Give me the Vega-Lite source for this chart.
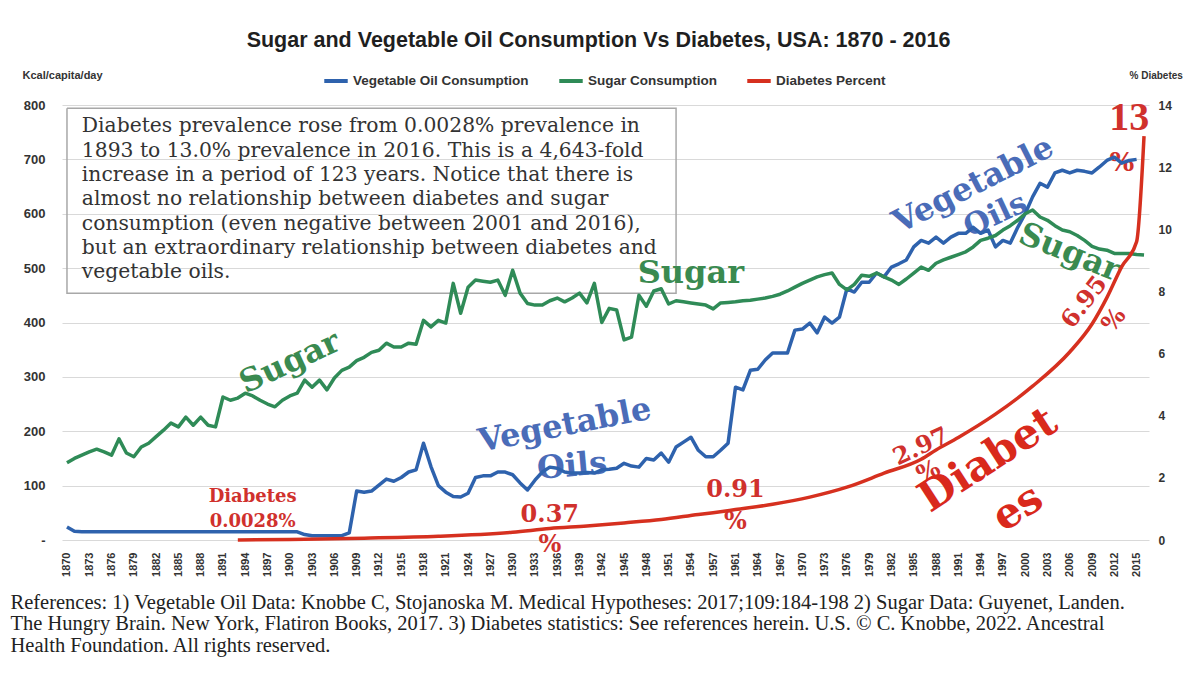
{
  "$schema": "https://vega.github.io/schema/vega-lite/v6.json",
  "width": 1087,
  "height": 435,
  "autosize": {"type": "none"},
  "padding": {"left": 62, "top": 105, "right": 51, "bottom": 135},
  "background": "white",
  "title": {
    "text": "Sugar and Vegetable Oil Consumption Vs Diabetes, USA: 1870 - 2016",
    "font": "Liberation Sans",
    "fontSize": 21.5,
    "fontWeight": "bold",
    "color": "#1f1f1f",
    "anchor": "middle",
    "frame": "group",
    "offset": 16,
    "dx": -7
  },
  "config": {
    "view": {"stroke": null},
    "text": {"font": "DejaVu Serif", "fontWeight": "bold"}
  },
  "encoding": {
    "x": {
      "field": "year",
      "type": "ordinal",
      "scale": {
        "type": "point",
        "padding": 0.67,
        "domain": [1870,1871,1872,1873,1874,1875,1876,1877,1878,1879,1880,1881,1882,1883,1884,1885,1886,1887,1888,1889,1890,1891,1892,1893,1894,1895,1896,1897,1898,1899,1900,1901,1902,1903,1904,1905,1906,1907,1908,1909,1910,1911,1912,1913,1914,1915,1916,1917,1918,1919,1920,1921,1922,1923,1924,1925,1926,1927,1928,1929,1930,1931,1932,1933,1934,1935,1936,1937,1938,1939,1940,1941,1942,1943,1944,1945,1946,1947,1948,1949,1950,1951,1952,1953,1954,1955,1956,1957,1959,1960,1961,1962,1963,1964,1965,1966,1967,1968,1969,1970,1971,1972,1973,1974,1975,1976,1977,1978,1979,1980,1981,1982,1983,1984,1985,1986,1987,1988,1989,1990,1991,1992,1993,1994,1995,1996,1997,1998,1999,2000,2001,2002,2003,2004,2005,2006,2007,2008,2009,2010,2011,2012,2013,2014,2015,2016]
      },
      "axis": {
        "values": [1870,1873,1876,1879,1882,1885,1888,1891,1894,1897,1900,1903,1906,1909,1912,1915,1918,1921,1924,1927,1930,1933,1936,1939,1942,1945,1948,1951,1954,1957,1961,1964,1967,1970,1973,1976,1979,1982,1985,1988,1991,1994,1997,2000,2003,2006,2009,2012,2015],
        "labelAngle": -90,
        "labelFont": "Liberation Sans",
        "labelFontSize": 11,
        "labelFontWeight": "bold",
        "labelColor": "#333333",
        "labelPadding": 12,
        "labelOverlap": false,
        "ticks": false,
        "domain": false,
        "grid": false,
        "title": [
          "References: 1) Vegetable Oil Data: Knobbe C, Stojanoska M. Medical Hypotheses: 2017;109:184-198  2) Sugar Data: Guyenet, Landen.",
          "The Hungry Brain. New York, Flatiron Books, 2017. 3) Diabetes statistics: See references herein. U.S. © C. Knobbe, 2022. Ancestral",
          "Health Foundation. All rights reserved."
        ],
        "titleFont": "Liberation Serif",
        "titleFontSize": 20.5,
        "titleFontWeight": "normal",
        "titleColor": "#222222",
        "titleAnchor": "start",
        "titleAlign": "left",
        "titleBaseline": "top",
        "titleX": -52,
        "titleY": 52,
        "titleLineHeight": 21.5,
        "titleLimit": 1300
      }
    }
  },
  "layer": [
    {
      "encoding": {
        "y": {
          "field": "val",
          "type": "quantitative",
          "scale": {"domain": [0, 800], "nice": false, "zero": false},
          "axis": {
            "orient": "left",
            "values": [0,100,200,300,400,500,600,700,800],
            "labelExpr": "datum.value == 0 ? '-' : datum.label",
            "labelFont": "Liberation Sans",
            "labelFontSize": 13,
            "labelFontWeight": "bold",
            "labelColor": "#333333",
            "labelPadding": 17,
            "ticks": false,
            "domain": false,
            "grid": true,
            "gridColor": "#d9d9d9",
            "gridWidth": 1,
            "title": "Kcal/capita/day",
            "titleAngle": 0,
            "titleAlign": "left",
            "titleBaseline": "middle",
            "titleX": -40,
            "titleY": -30,
            "titleFont": "Liberation Sans",
            "titleFontSize": 11,
            "titleFontWeight": "bold",
            "titleColor": "#333333"
          }
        }
      },
      "layer": [
        {
          "data": {"values": [
            {"year": 1870, "val": 794, "o": 1},
            {"year": 1952, "val": 794, "o": 2},
            {"year": 1952, "val": 454, "o": 3},
            {"year": 1870, "val": 454, "o": 4},
            {"year": 1870, "val": 794, "o": 5}
          ]},
          "mark": {"type": "line", "color": "#a8a8a8", "strokeWidth": 1.5},
          "encoding": {"order": {"field": "o", "type": "quantitative"}}
        },
        {
          "data": {"values": [{"year": 1872, "val": 779}]},
          "mark": {
            "type": "text",
            "text": [
              "Diabetes prevalence rose from 0.0028% prevalence in",
              "1893 to 13.0% prevalence in 2016.  This is a 4,643-fold",
              "increase in a period of 123 years. Notice that there is",
              "almost no relationship between diabetes and sugar",
              "consumption (even negative between 2001 and 2016),",
              "but an extraordinary relationship between diabetes and",
              "vegetable oils."
            ],
            "align": "left",
            "baseline": "top",
            "font": "DejaVu Serif",
            "fontWeight": "normal",
            "fontSize": 20.3,
            "lineHeight": 24.3,
            "color": "#333333"
          }
        },
        {
          "data": {"values": [{"year": 1900, "val": 327, "t": "Sugar"}]},
          "mark": {"type": "text", "fontSize": 32, "angle": -25, "color": "#3a8a50"},
          "encoding": {"text": {"field": "t"}}
        },
        {
          "data": {"values": [{"year": 1954, "val": 491, "t": "Sugar"}]},
          "mark": {"type": "text", "fontSize": 32, "angle": 0, "color": "#3a8a50"},
          "encoding": {"text": {"field": "t"}}
        },
        {
          "data": {"values": [{"year": 2006, "val": 529, "t": "Sugar"}]},
          "mark": {"type": "text", "fontSize": 32, "angle": 22, "color": "#3a8a50"},
          "encoding": {"text": {"field": "t"}}
        },
        {
          "data": {"values": [{"year": 1937, "val": 211, "t": "Vegetable"}]},
          "mark": {"type": "text", "fontSize": 32, "angle": -11, "color": "#4a6cb8"},
          "encoding": {"text": {"field": "t"}}
        },
        {
          "data": {"values": [{"year": 1938, "val": 136, "t": "Oils"}]},
          "mark": {"type": "text", "fontSize": 32, "angle": -5, "color": "#4a6cb8"},
          "encoding": {"text": {"field": "t"}}
        },
        {
          "data": {"values": [{"year": 1993, "val": 653, "t": "Vegetable"}]},
          "mark": {"type": "text", "fontSize": 32, "angle": -27, "color": "#4a6cb8"},
          "encoding": {"text": {"field": "t"}}
        },
        {
          "data": {"values": [{"year": 1996, "val": 597, "t": "Oils"}]},
          "mark": {"type": "text", "fontSize": 30, "angle": -25, "color": "#4a6cb8"},
          "encoding": {"text": {"field": "t"}}
        },
        {
          "data": {"values": [
            {"year": 1895, "val": 79, "t": "Diabetes"},
            {"year": 1895, "val": 33, "t": "0.0028%"}
          ]},
          "mark": {"type": "text", "fontSize": 18, "color": "#d0312d"},
          "encoding": {"text": {"field": "t"}}
        },
        {
          "data": {"values": [
            {"year": 1935, "val": 46, "t": "0.37"},
            {"year": 1935, "val": -9, "t": "%"},
            {"year": 1961, "val": 92, "t": "0.91"},
            {"year": 1961, "val": 33, "t": "%"}
          ]},
          "mark": {"type": "text", "fontSize": 24, "color": "#d0312d"},
          "encoding": {"text": {"field": "t"}}
        },
        {
          "data": {"values": [
            {"year": 1986, "val": 171, "t": "2.97"},
            {"year": 1987, "val": 125, "t": "%"}
          ]},
          "mark": {"type": "text", "fontSize": 24, "angle": -25, "color": "#d0312d"},
          "encoding": {"text": {"field": "t"}}
        },
        {
          "data": {"values": [
            {"year": 2008, "val": 437, "t": "6.95"},
            {"year": 2012, "val": 404, "t": "%"}
          ]},
          "mark": {"type": "text", "fontSize": 24, "angle": -52, "color": "#d0312d"},
          "encoding": {"text": {"field": "t"}}
        },
        {
          "data": {"values": [
            {"year": 1995, "val": 147, "t": "Diabet"},
            {"year": 1999, "val": 59, "t": "es"}
          ]},
          "mark": {"type": "text", "fontSize": 42, "angle": -33, "color": "#d9291c"},
          "encoding": {"text": {"field": "t"}}
        },
        {
          "data": {"values": [{"year": 2014, "val": 776, "t": "13"}]},
          "mark": {"type": "text", "fontSize": 40, "color": "#d0312d", "font": "Liberation Serif"},
          "encoding": {"text": {"field": "t"}}
        },
        {
          "data": {"values": [{"year": 2013, "val": 693, "t": "%"}]},
          "mark": {"type": "text", "fontSize": 26, "color": "#d0312d"},
          "encoding": {"text": {"field": "t"}}
        },
        {
          "data": {"values": [
            {"year":1870,"oil":24,"sugar":142},{"year":1871,"oil":16,"sugar":150},{"year":1872,"oil":15,"sugar":156},{"year":1873,"oil":15,"sugar":162},{"year":1874,"oil":15,"sugar":167},
            {"year":1875,"oil":15,"sugar":162},{"year":1876,"oil":15,"sugar":156},{"year":1877,"oil":15,"sugar":186},{"year":1878,"oil":15,"sugar":160},{"year":1879,"oil":15,"sugar":153},
            {"year":1880,"oil":15,"sugar":171},{"year":1881,"oil":15,"sugar":178},{"year":1882,"oil":15,"sugar":190},{"year":1883,"oil":15,"sugar":202},{"year":1884,"oil":15,"sugar":215},
            {"year":1885,"oil":15,"sugar":208},{"year":1886,"oil":15,"sugar":226},{"year":1887,"oil":15,"sugar":211},{"year":1888,"oil":15,"sugar":226},{"year":1889,"oil":15,"sugar":211},
            {"year":1890,"oil":15,"sugar":208},{"year":1891,"oil":15,"sugar":263},{"year":1892,"oil":15,"sugar":257},{"year":1893,"oil":15,"sugar":261},{"year":1894,"oil":15,"sugar":270},
            {"year":1895,"oil":15,"sugar":265},{"year":1896,"oil":15,"sugar":257},{"year":1897,"oil":15,"sugar":250},{"year":1898,"oil":15,"sugar":245},{"year":1899,"oil":15,"sugar":257},
            {"year":1900,"oil":15,"sugar":265},{"year":1901,"oil":15,"sugar":270},{"year":1902,"oil":10,"sugar":294},{"year":1903,"oil":8,"sugar":281},{"year":1904,"oil":8,"sugar":294},
            {"year":1905,"oil":8,"sugar":276},{"year":1906,"oil":8,"sugar":298},{"year":1907,"oil":8,"sugar":312},{"year":1908,"oil":13,"sugar":318},{"year":1909,"oil":90,"sugar":330},
            {"year":1910,"oil":88,"sugar":336},{"year":1911,"oil":90,"sugar":345},{"year":1912,"oil":101,"sugar":349},{"year":1913,"oil":112,"sugar":362},{"year":1914,"oil":108,"sugar":355},
            {"year":1915,"oil":115,"sugar":355},{"year":1916,"oil":125,"sugar":362},{"year":1917,"oil":129,"sugar":360},{"year":1918,"oil":178,"sugar":404},{"year":1919,"oil":135,"sugar":392},
            {"year":1920,"oil":100,"sugar":404},{"year":1921,"oil":88,"sugar":399},{"year":1922,"oil":80,"sugar":472},{"year":1923,"oil":79,"sugar":417},{"year":1924,"oil":86,"sugar":465},
            {"year":1925,"oil":115,"sugar":478},{"year":1926,"oil":118,"sugar":476},{"year":1927,"oil":118,"sugar":474},{"year":1928,"oil":125,"sugar":478},{"year":1929,"oil":125,"sugar":450},
            {"year":1930,"oil":120,"sugar":496},{"year":1931,"oil":105,"sugar":454},{"year":1932,"oil":92,"sugar":435},{"year":1933,"oil":110,"sugar":432},{"year":1934,"oil":125,"sugar":432},
            {"year":1935,"oil":134,"sugar":440},{"year":1936,"oil":132,"sugar":445},{"year":1937,"oil":125,"sugar":438},{"year":1938,"oil":123,"sugar":445},{"year":1939,"oil":123,"sugar":454},
            {"year":1940,"oil":124,"sugar":436},{"year":1941,"oil":123,"sugar":472},{"year":1942,"oil":129,"sugar":400},{"year":1943,"oil":130,"sugar":426},{"year":1944,"oil":132,"sugar":423},
            {"year":1945,"oil":141,"sugar":368},{"year":1946,"oil":136,"sugar":373},{"year":1947,"oil":134,"sugar":450},{"year":1948,"oil":150,"sugar":430},{"year":1949,"oil":147,"sugar":458},
            {"year":1950,"oil":160,"sugar":462},{"year":1951,"oil":143,"sugar":434},{"year":1952,"oil":171,"sugar":440},{"year":1953,"oil":180,"sugar":438},{"year":1954,"oil":189,"sugar":436},
            {"year":1955,"oil":165,"sugar":434},{"year":1956,"oil":153,"sugar":432},{"year":1957,"oil":153,"sugar":425},
            {"year":1959,"oil":165,"sugar":436},{"year":1960,"oil":178,"sugar":437},{"year":1961,"oil":281,"sugar":438},{"year":1962,"oil":276,"sugar":440},{"year":1963,"oil":312,"sugar":441},
            {"year":1964,"oil":314,"sugar":443},{"year":1965,"oil":331,"sugar":445},{"year":1966,"oil":344,"sugar":448},{"year":1967,"oil":344,"sugar":452},{"year":1968,"oil":344,"sugar":458},
            {"year":1969,"oil":386,"sugar":465},{"year":1970,"oil":388,"sugar":472},{"year":1971,"oil":399,"sugar":478},{"year":1972,"oil":381,"sugar":484},{"year":1973,"oil":410,"sugar":488},
            {"year":1974,"oil":399,"sugar":491},{"year":1975,"oil":410,"sugar":470},{"year":1976,"oil":462,"sugar":460},{"year":1977,"oil":456,"sugar":470},{"year":1978,"oil":474,"sugar":487},
            {"year":1979,"oil":474,"sugar":485},{"year":1980,"oil":491,"sugar":491},{"year":1981,"oil":484,"sugar":484},{"year":1982,"oil":502,"sugar":478},{"year":1983,"oil":508,"sugar":470},
            {"year":1984,"oil":515,"sugar":480},{"year":1985,"oil":539,"sugar":491},{"year":1986,"oil":551,"sugar":502},{"year":1987,"oil":546,"sugar":496},{"year":1988,"oil":557,"sugar":509},
            {"year":1989,"oil":546,"sugar":515},{"year":1990,"oil":557,"sugar":520},{"year":1991,"oil":564,"sugar":525},{"year":1992,"oil":564,"sugar":530},{"year":1993,"oil":575,"sugar":539},
            {"year":1994,"oil":564,"sugar":551},{"year":1995,"oil":570,"sugar":555},{"year":1996,"oil":539,"sugar":560},{"year":1997,"oil":551,"sugar":570},{"year":1998,"oil":546,"sugar":578},
            {"year":1999,"oil":575,"sugar":588},{"year":2000,"oil":600,"sugar":600},{"year":2001,"oil":631,"sugar":607},{"year":2002,"oil":656,"sugar":594},{"year":2003,"oil":649,"sugar":588},
            {"year":2004,"oil":675,"sugar":578},{"year":2005,"oil":680,"sugar":570},{"year":2006,"oil":675,"sugar":567},{"year":2007,"oil":680,"sugar":560},{"year":2008,"oil":678,"sugar":551},
            {"year":2009,"oil":675,"sugar":540},{"year":2010,"oil":686,"sugar":535},{"year":2011,"oil":698,"sugar":533},{"year":2012,"oil":704,"sugar":527},{"year":2013,"oil":693,"sugar":527},
            {"year":2014,"oil":698,"sugar":527},{"year":2015,"oil":700,"sugar":525},{"year":2016,"sugar":524}
          ]},
          "transform": [{"fold": ["oil", "sugar"], "as": ["series", "val"]}],
          "mark": {"type": "line", "strokeWidth": 3.5, "strokeJoin": "round"},
          "encoding": {
            "color": {
              "field": "series",
              "type": "nominal",
              "scale": {"domain": ["oil", "sugar", "diabetes"], "range": ["#2e62ad", "#2f8b57", "#d6301f"]},
              "legend": {
                "orient": "none",
                "legendX": 260,
                "legendY": -38,
                "direction": "horizontal",
                "title": null,
                "labelExpr": "datum.label == 'oil' ? 'Vegetable Oil Consumption' : datum.label == 'sugar' ? 'Sugar Consumption' : 'Diabetes Percent'",
                "labelFont": "Liberation Sans",
                "labelFontSize": 13.5,
                "labelFontWeight": "bold",
                "labelColor": "#333333",
                "labelLimit": 400,
                "labelOffset": 3,
                "symbolType": "stroke",
                "symbolStrokeWidth": 4,
                "symbolSize": 550,
                "columnPadding": 22
              }
            }
          }
        }
      ]
    },
    {
      "data": {"values": [
        {"year":1893,"pct":0.0028},{"year":1900,"pct":0.02},{"year":1910,"pct":0.06},{"year":1920,"pct":0.12},
        {"year":1930,"pct":0.25},{"year":1935,"pct":0.37},{"year":1940,"pct":0.45},{"year":1945,"pct":0.55},
        {"year":1950,"pct":0.66},{"year":1955,"pct":0.82},{"year":1957,"pct":0.88},{"year":1961,"pct":0.98},
        {"year":1966,"pct":1.15},{"year":1971,"pct":1.38},{"year":1976,"pct":1.7},{"year":1981,"pct":2.15},
        {"year":1986,"pct":2.6},{"year":1988,"pct":2.9},{"year":1991,"pct":3.3},{"year":1996,"pct":4.05},
        {"year":2001,"pct":4.95},{"year":2006,"pct":6.05},{"year":2009,"pct":6.95},{"year":2011,"pct":7.8},
        {"year":2013,"pct":8.8},{"year":2015,"pct":9.6},{"year":2016,"pct":13.0}
      ]},
      "mark": {"type": "line", "interpolate": "monotone", "strokeWidth": 3.5},
      "encoding": {
        "y": {
          "field": "pct",
          "type": "quantitative",
          "scale": {"domain": [0, 14], "nice": false, "zero": false},
          "axis": {
            "orient": "right",
            "values": [0,2,4,6,8,10,12,14],
            "labelFont": "Liberation Sans",
            "labelFontSize": 12,
            "labelFontWeight": "bold",
            "labelColor": "#333333",
            "labelPadding": 9,
            "ticks": false,
            "domain": false,
            "grid": false,
            "title": "% Diabetes",
            "titleAngle": 0,
            "titleAlign": "left",
            "titleBaseline": "middle",
            "titleX": -20,
            "titleY": -30,
            "titleFont": "Liberation Sans",
            "titleFontSize": 10,
            "titleFontWeight": "bold",
            "titleColor": "#333333"
          }
        },
        "color": {"datum": "diabetes", "type": "nominal"}
      }
    }
  ],
  "resolve": {"scale": {"y": "independent"}}
}
